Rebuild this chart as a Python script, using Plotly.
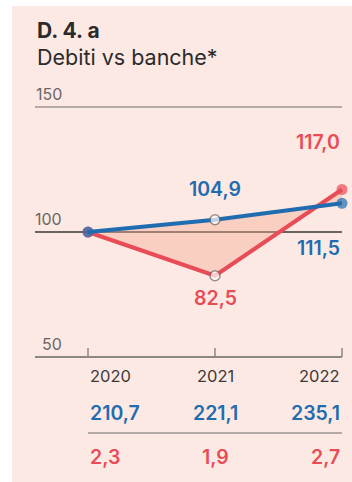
import plotly.graph_objects as go

# Index values (2020 = 100)
years = [2020, 2021, 2022]
year_labels = ["2020", "2021", "2022"]
debiti = [100.0, 104.9, 111.5]      # blue series
banche = [100.0, 82.5, 117.0]       # red series
debiti_lbl = ["", "104,9", "111,5"]
banche_lbl = ["", "82,5", "117,0"]
row_blue = ["210,7", "221,1", "235,1"]
row_red = ["2,3", "1,9", "2,7"]
y_ticks = [150, 100, 50]
title_code = "D. 4. a"
title_text = "Debiti vs banche*"

W, H = 352, 482
BG = "#fde9e3"
BLUE = "#1f6cb0"
RED = "#e84c57"
FONT = "Inter"

fig = go.Figure()

# shaded area between the two series
fig.add_trace(go.Scatter(
    x=years + years[::-1], y=debiti + banche[::-1],
    fill="toself", fillcolor="rgba(242,168,146,0.40)",
    line=dict(width=0), mode="lines", hoverinfo="skip", showlegend=False))


def series(vals, color):
    return go.Scatter(
        x=years, y=vals, mode="lines+markers",
        line=dict(color=color, width=4),
        marker=dict(size=[11, 10, 11],
                    color=[color, "white", color],
                    line=dict(color=[color, "#6f6a68", color], width=[0, 1.5, 0])),
        showlegend=False, hoverinfo="skip")


fig.add_trace(series(banche, RED))
fig.add_trace(series(debiti, BLUE))

shapes = []
# panel background
shapes.append(dict(type="rect", xref="paper", yref="paper", layer="below",
                   x0=12 / W, x1=1, y0=0, y1=1 - 6 / H,
                   fillcolor=BG, line=dict(width=0)))
# horizontal reference lines
for v in y_ticks:
    col, wd = ("#6b6360", 2) if v == 100 else ("#9b9694", 1.5)
    if v == 50:
        col, wd = "#8d8886", 2
    shapes.append(dict(type="line", xref="paper", yref="y", layer="below",
                       x0=35 / W, x1=342 / W, y0=v, y1=v,
                       line=dict(color=col, width=wd)))
# axis ticks
for yr in years:
    shapes.append(dict(type="line", xref="x", yref="y", layer="below",
                       x0=yr, x1=yr, y0=50, y1=53.6,
                       line=dict(color="#8d8886", width=1.5)))
# divider between table rows
shapes.append(dict(type="line", xref="x", yref="paper",
                   x0=years[0], x1=years[-1], y0=1 - 433 / H, y1=1 - 433 / H,
                   line=dict(color="#9b9694", width=1.5)))

ann = []
ann.append(dict(text="<b>" + title_code + "</b>", xref="paper", yref="paper",
                x=35 / W, y=1 - 30 / H, xanchor="left", yanchor="middle",
                showarrow=False, font=dict(size=21, color="#2b2b2b", family=FONT)))
ann.append(dict(text=title_text, xref="paper", yref="paper",
                x=35 / W, y=1 - 57 / H, xanchor="left", yanchor="middle",
                showarrow=False, font=dict(size=21.5, color="#2b2b2b", family=FONT)))
for v in y_ticks:
    ann.append(dict(text=str(v), xref="paper", yref="y", x=64 / W, y=v,
                    yshift=13, xanchor="right", yanchor="middle", showarrow=False,
                    font=dict(size=16, color="#6a6664", family=FONT)))

# point labels
blue_shift = [0, 31, -45]
red_shift = [0, -22, 48]
anchors = ["left", "center", "right"]
for i, yr in enumerate(years):
    if debiti_lbl[i]:
        ann.append(dict(text=debiti_lbl[i], x=yr, y=debiti[i], yshift=blue_shift[i],
                        xanchor=anchors[i], yanchor="middle", showarrow=False,
                        font=dict(size=19.5, color=BLUE, family=FONT, weight=600)))
    if banche_lbl[i]:
        ann.append(dict(text=banche_lbl[i], x=yr, y=banche[i], yshift=red_shift[i],
                        xanchor=anchors[i], yanchor="middle", showarrow=False,
                        font=dict(size=19.5, color=RED, family=FONT, weight=600)))

# table under the chart
for i, yr in enumerate(years):
    ann.append(dict(text=year_labels[i], x=yr, xref="x", yref="paper", y=1 - 376 / H,
                    xanchor=anchors[i], yanchor="middle", showarrow=False,
                    font=dict(size=16.5, color="#3d3a39", family=FONT)))
    ann.append(dict(text=row_blue[i], x=yr, xref="x", yref="paper", y=1 - 413 / H,
                    xanchor=anchors[i], yanchor="middle", showarrow=False,
                    font=dict(size=19.5, color=BLUE, family=FONT, weight=600)))
    ann.append(dict(text=row_red[i], x=yr, xref="x", yref="paper", y=1 - 457 / H,
                    xanchor=anchors[i], yanchor="middle", showarrow=False,
                    font=dict(size=19.5, color=RED, family=FONT, weight=600)))

fig.update_layout(
    width=W, height=H, margin=dict(l=0, r=0, t=0, b=0),
    paper_bgcolor="white", plot_bgcolor="rgba(0,0,0,0)",
    xaxis=dict(range=[2020 - 88 / 127, 2022 + 10 / 127], visible=False, fixedrange=True),
    yaxis=dict(range=[0, 192.8], visible=False, fixedrange=True),
    shapes=shapes, annotations=ann, showlegend=False,
)

fig.write_html("out.html", config={"displayModeBar": False})
